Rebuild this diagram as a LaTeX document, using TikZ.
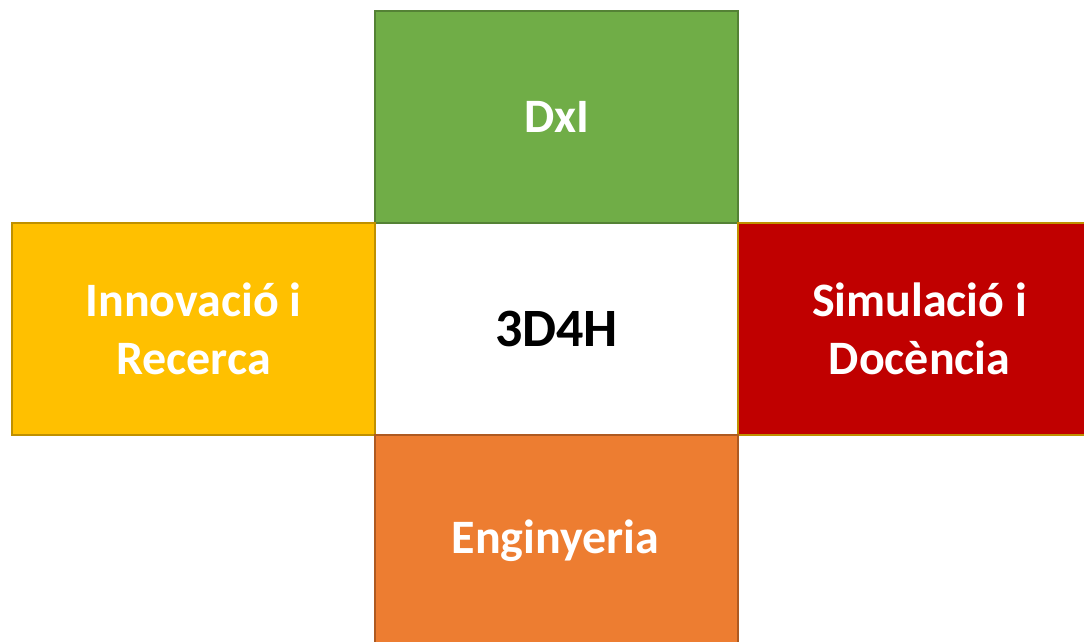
\documentclass[tikz,border=0pt]{standalone}
\usepackage{fontspec}
\setmainfont{Carlito}
\definecolor{gfill}{RGB}{112,173,71}
\definecolor{gline}{RGB}{84,130,53}
\definecolor{yfill}{RGB}{255,192,0}
\definecolor{yline}{RGB}{191,144,0}
\definecolor{rfill}{RGB}{192,0,0}
\definecolor{ofill}{RGB}{237,125,49}
\definecolor{oline}{RGB}{174,90,33}
\begin{document}
\begin{tikzpicture}[x=1pt,y=-1pt,
  lbl/.style={font=\fontsize{48}{58}\selectfont\bfseries, align=center, text=white},
  box/.style={draw, line width=2.2pt, minimum width=363pt, minimum height=212pt, inner sep=0pt, anchor=north west, lbl},
]
\useasboundingbox (0,0) rectangle (1084,641);
\clip (0,0) rectangle (1084,641);
\node[box, fill=white, draw=none, text=black, font=\fontsize{54}{64}\selectfont\bfseries] (c) at (374,222) {3D4H};
\node[box, fill=gfill, draw=gline] (t) at (374,10) {DxI};
\node[box, fill=yfill, draw=yline] (l) at (11,222) {Innovació i\\Recerca};
\node[box, fill=rfill, draw=yline] (r) at (737,222) {Simulació i\\Docència};
\node[box, fill=ofill, draw=oline, minimum height=220pt] (b) at (374,434) {};
\node[lbl] (bt) at (555.5,541) {Enginyeria};
\end{tikzpicture}
\end{document}
